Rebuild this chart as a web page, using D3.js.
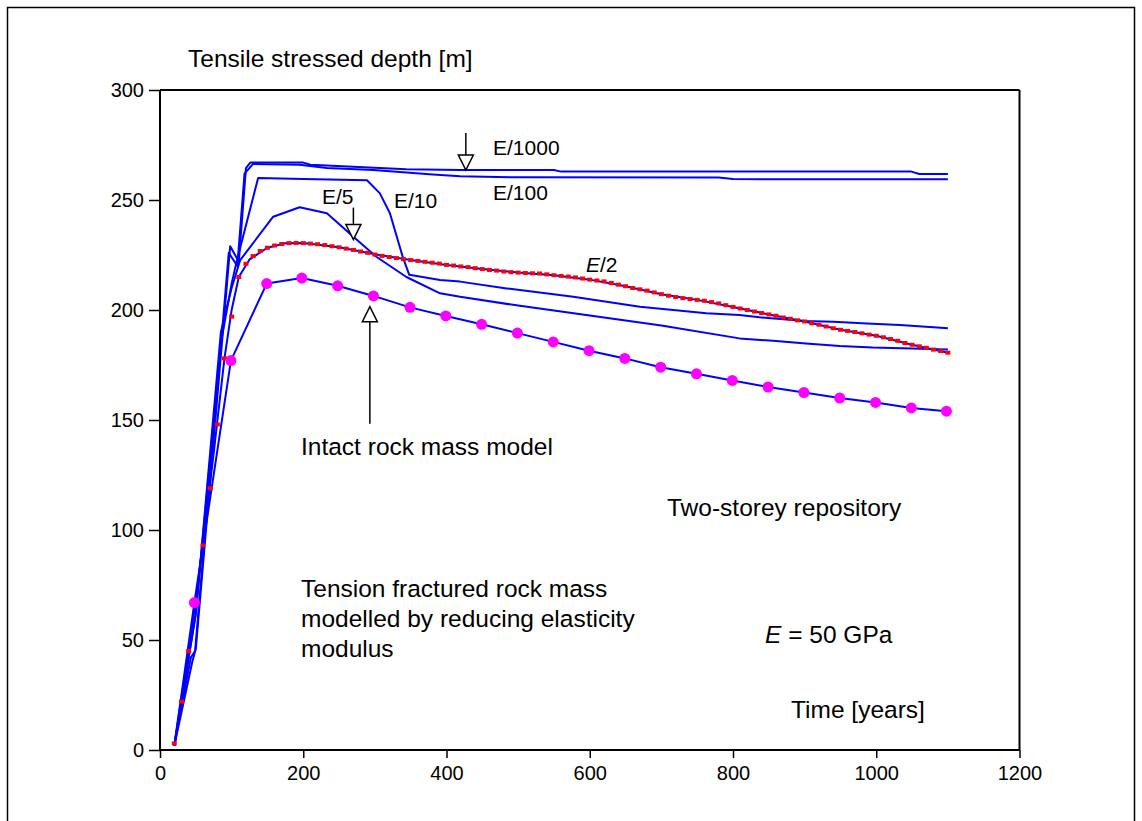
<!DOCTYPE html>
<html>
<head>
<meta charset="utf-8">
<script src="https://cdn.jsdelivr.net/npm/d3@7"></script>
<style>
  html, body { margin: 0; padding: 0; background: #fff; }
  svg { display: block; }
  text { font-family: "Liberation Sans", Arial, Helvetica, sans-serif; fill: #000; }
</style>
</head>
<body>
<svg id="chart" width="1142" height="821"></svg>
<script>
// ---------------- DATA ----------------
const xTicks = [0, 200, 400, 600, 800, 1000, 1200];
const yTicks = [0, 50, 100, 150, 200, 250, 300];

// E/1000
const e1000Years = [20, 45, 50, 98, 110, 120, 126, 200, 210, 344, 419, 550, 560, 1049, 1060, 1100];
const e1000Depth = [2, 40, 46, 229, 222, 264.5, 267, 267, 266, 264, 263.6, 263.6, 262.9, 262.9, 261.8, 261.8];

// E/100
const e100Years = [20, 43, 49, 96, 108, 118, 130, 195, 233, 298, 381, 419, 500, 780, 800, 1100];
const e100Depth = [2, 42, 45, 226, 220, 262, 266.4, 266, 264.5, 263.6, 261.6, 260.8, 260.3, 260.2, 259.5, 259.4];

// E/10
const e10Years = [20, 50, 85, 100, 107, 137, 200, 289, 307, 321, 339, 348, 391, 419, 484, 577, 670, 763, 809, 837, 900, 940, 987, 1033, 1085, 1100];
const e10Depth = [2, 62, 185, 212, 222, 260, 259.5, 259, 253, 244, 224, 216, 213.6, 212.9, 209.8, 206, 201.5, 198.5, 197.7, 196.7, 195, 194.7, 193.9, 193.2, 192, 191.7];

// E/5
const e5Years = [20, 50, 85, 100, 112, 158, 195, 233, 270, 302, 344, 391, 419, 500, 600, 700, 809, 856, 902, 949, 995, 1050, 1100];
const e5Depth = [2, 62, 190, 210, 222.7, 242.4, 246.7, 244, 233.3, 224.2, 215, 207.6, 206, 202, 197.5, 193, 187.1, 186, 184.8, 183.6, 182.9, 182.5, 182];

// E/2 (blue line)
const e2Years = [20, 50, 75, 90, 100, 110, 125, 150, 175, 200, 250, 300, 350, 400, 450, 500, 550, 600, 650, 700, 750, 800, 850, 900, 950, 1000, 1050, 1100];
const e2Depth = [2, 68, 135, 178, 200, 215, 223, 228.3, 230.3, 230.5, 228.5, 225.3, 222.7, 220.5, 218.6, 217, 215.8, 213.8, 210.8, 207.2, 204.6, 201.4, 198, 194.8, 191, 188.3, 184.2, 180.6];

// E/2 red markers (every 10 years from 20 to 1100)
const redYears = d3.range(20, 1101, 10);
const redDepth = [
  3, 22, 45, 68, 93, 119, 148, 178, 197, 215,
  221, 224.5, 226.8, 228.3, 229.3, 230, 230.4, 230.5, 230.4, 230.2,
  229.9, 229.5, 229, 228.5, 227.9, 227.3, 226.6, 226, 225.2, 224.6,
  224.1, 223.6, 223.1, 222.7, 222.3, 221.9, 221.5, 221.1, 220.5, 220.2,
  219.8, 219.5, 219, 218.6, 218.2, 217.9, 217.5, 217.2, 217, 216.8,
  216.7, 216.6, 216.2, 215.8, 215.5, 215.2, 214.8, 214.3, 213.8, 213.4,
  213, 212.3, 211.5, 210.8, 210, 209.4, 208.8, 208, 207.2, 206.5,
  205.9, 205.4, 205, 204.6, 204.2, 203.6, 203, 202.2, 201.4, 200.7,
  200, 199.3, 198.6, 198, 197.4, 196.6, 196, 195.3, 194.8, 194,
  193.3, 192.5, 191.7, 191, 190.5, 190, 189.4, 188.8, 188.3, 187.6,
  186.8, 186, 185, 184.2, 183.5, 182.8, 182, 181.3, 180.6
];

// Intact rock mass model (line + magenta markers)
const intactYears = [20, 48, 99, 149, 198, 248, 298, 349, 399, 449, 499, 549, 599, 649, 699, 749, 799, 849, 899, 949, 999, 1049, 1098];
const intactDepth = [2, 67, 177, 212, 214.5, 211, 206.4, 201.2, 197.3, 193.5, 189.5, 185.5, 181.5, 178, 174, 171, 168, 165, 162.5, 160, 158, 155.5, 154];

// ---------------- CHART ----------------
const svg = d3.select("#chart");
const x = d3.scaleLinear().domain([0, 1200]).range([160, 1019.5]);
const y = d3.scaleLinear().domain([0, 300]).range([750, 90]);

const BLUE = "#0000ff";

// outer frame
svg.append("rect").attr("x", 7.5).attr("y", 7.5).attr("width", 1127).attr("height", 830)
  .attr("fill", "none").attr("stroke", "#000").attr("stroke-width", 1.5);

// plot box top & right
svg.append("line").attr("x1", x(0)).attr("x2", x(1200)).attr("y1", y(300)).attr("y2", y(300))
  .attr("stroke", "#000").attr("stroke-width", 2);
svg.append("line").attr("x1", x(1200)).attr("x2", x(1200)).attr("y1", y(300)).attr("y2", y(0))
  .attr("stroke", "#000").attr("stroke-width", 2);

// axes
const xAxis = d3.axisBottom(x).tickValues(xTicks).tickSize(8).tickPadding(8).tickFormat(d3.format("d"));
const yAxis = d3.axisLeft(y).tickValues(yTicks).tickSize(11).tickPadding(5).tickFormat(d3.format("d"));

const gx = svg.append("g").attr("transform", `translate(0,${y(0)})`).call(xAxis);
const gy = svg.append("g").attr("transform", `translate(${x(0)},0)`).call(yAxis);
[gx, gy].forEach(g => {
  g.select(".domain").attr("stroke", "#000").attr("stroke-width", 2);
  g.selectAll(".tick line").attr("stroke", "#000").attr("stroke-width", 1.5);
  g.selectAll(".tick text").attr("font-size", 20).attr("font-family", "Liberation Sans, Arial, sans-serif").attr("fill", "#000");
});
gx.select(".domain").attr("d", `M${x(0)},0H${x(1200)}`);
gy.select(".domain").attr("d", `M0,${y(0)}V${y(300)}`);

// lines
const line = d3.line().x(d => x(d[0])).y(d => y(d[1]));
const zip = (a, b) => a.map((v, i) => [v, b[i]]);

const plot = svg.append("g");
[[e1000Years, e1000Depth], [e100Years, e100Depth], [e10Years, e10Depth], [e5Years, e5Depth], [e2Years, e2Depth], [intactYears, intactDepth]]
  .forEach(([xs, ys]) => {
    plot.append("path").datum(zip(xs, ys)).attr("d", line)
      .attr("fill", "none").attr("stroke", BLUE).attr("stroke-width", 2).attr("stroke-linejoin", "round");
  });

// red markers on E/2
plot.selectAll("rect.red").data(zip(redYears, redDepth)).enter().append("rect")
  .attr("class", "red")
  .attr("x", d => x(d[0]) - 2.5).attr("y", d => y(d[1]) - 2)
  .attr("width", 5).attr("height", 4).attr("fill", "#ff0000");

// magenta markers on intact line (skip the start point)
plot.selectAll("circle.m").data(zip(intactYears, intactDepth).slice(1)).enter().append("circle")
  .attr("class", "m")
  .attr("cx", d => x(d[0])).attr("cy", d => y(d[1])).attr("r", 5.5).attr("fill", "#ff00ff");

// ---------------- ANNOTATIONS ----------------
function txt(str, px, py, size) {
  return svg.append("text").attr("x", px).attr("y", py).attr("font-size", size).text(str);
}
txt("Tensile stressed depth [m]", 188, 67, 24.5);
txt("E/1000", 493, 155, 21);
txt("E/100", 493, 200, 21);
txt("E/5", 322, 204, 21);
txt("E/10", 394, 208, 21);
const e2t = svg.append("text").attr("x", 586).attr("y", 272).attr("font-size", 21);
e2t.append("tspan").attr("font-style", "italic").text("E");
e2t.append("tspan").text("/2");

txt("Intact rock mass model", 301, 455, 24.5);
txt("Two-storey repository", 667, 516, 24.5);
txt("Tension fractured rock mass", 301, 597, 24.5);
txt("modelled by reducing elasticity", 301, 627, 24.5);
txt("modulus", 301, 657, 24.5);
const et = svg.append("text").attr("x", 765).attr("y", 643).attr("font-size", 24.5);
et.append("tspan").attr("font-style", "italic").text("E");
et.append("tspan").text(" = 50 GPa");
txt("Time [years]", 791, 718, 24.5);

// arrows (open triangle heads)
function arrow(t, v, dir, len) {
  // dir = 1 pointing down (tail above), -1 pointing up (tail below)
  const tx = x(t), ty = y(v);
  const hh = 15, hw = 7.5;
  const baseY = ty - dir * hh;
  svg.append("line").attr("x1", tx).attr("x2", tx).attr("y1", ty - dir * len).attr("y2", baseY)
    .attr("stroke", "#000").attr("stroke-width", 1.5);
  svg.append("path").attr("d", `M${tx - hw},${baseY}L${tx + hw},${baseY}L${tx},${ty}Z`)
    .attr("fill", "#fff").attr("stroke", "#000").attr("stroke-width", 1.5);
}
arrow(427, 263.6, 1, 37);
arrow(270, 232, 1, 32);
arrow(293, 201.5, -1, 117);
</script>
</body>
</html>
